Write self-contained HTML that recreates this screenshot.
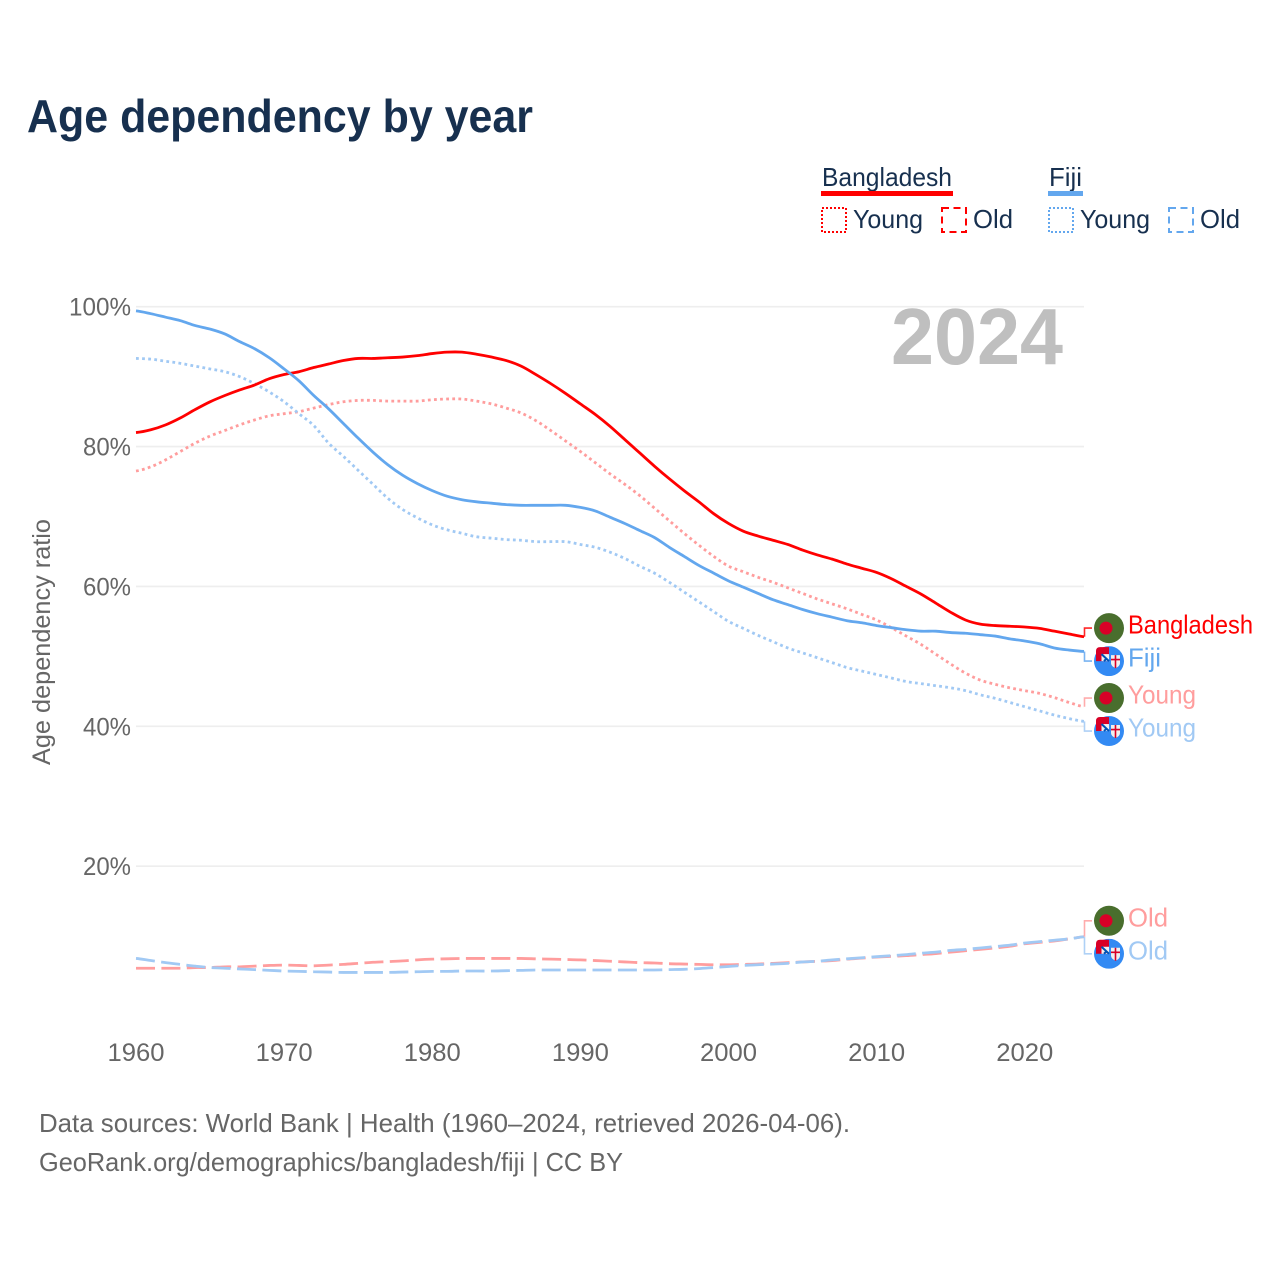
<!DOCTYPE html>
<html lang="en">
<head>
<meta charset="utf-8">
<title>Age dependency by year</title>
<style>
html,body{margin:0;padding:0;background:#fff;width:1280px;height:1280px;overflow:hidden}
svg{display:block;font-family:"Liberation Sans",sans-serif}
</style>
</head>
<body>
<svg id="chart" xmlns="http://www.w3.org/2000/svg" width="1280" height="1280" viewBox="0 0 1280 1280">
  <rect width="1280" height="1280" fill="#fff"/>
  <text x="27" y="132" font-size="46" font-weight="700" fill="#17304f" textLength="506" lengthAdjust="spacingAndGlyphs">Age dependency by year</text>

  <g font-size="26" fill="#17304f">
    <text x="822" y="186" textLength="130" lengthAdjust="spacingAndGlyphs">Bangladesh</text>
    <rect x="821" y="191" width="132" height="5" fill="#ff0000"/>
    <rect x="822" y="208" width="24" height="24" fill="none" stroke="#ff0000" stroke-width="2" stroke-dasharray="2 2"/>
    <text x="853" y="228" textLength="70" lengthAdjust="spacingAndGlyphs">Young</text>
    <rect x="942" y="208" width="24" height="24" fill="none" stroke="#ff0000" stroke-width="2" stroke-dasharray="7 4.5"/>
    <text x="973" y="228" textLength="40" lengthAdjust="spacingAndGlyphs">Old</text>

    <text x="1049" y="186" textLength="33" lengthAdjust="spacingAndGlyphs">Fiji</text>
    <rect x="1048" y="191" width="35" height="5" fill="#63a7ee"/>
    <rect x="1049" y="208" width="24" height="24" fill="none" stroke="#63a7ee" stroke-width="2" stroke-dasharray="2 2"/>
    <text x="1080" y="228" textLength="70" lengthAdjust="spacingAndGlyphs">Young</text>
    <rect x="1169" y="208" width="24" height="24" fill="none" stroke="#63a7ee" stroke-width="2" stroke-dasharray="7 4.5"/>
    <text x="1200" y="228" textLength="40" lengthAdjust="spacingAndGlyphs">Old</text>
  </g>

  <g id="grid"></g>
  <g id="yticks" font-size="25" fill="#666"></g>
  <g id="xticks" font-size="25" fill="#666"></g>

  <text transform="translate(50,642) rotate(-90)" text-anchor="middle" font-size="25" fill="#666" textLength="246" lengthAdjust="spacingAndGlyphs">Age dependency ratio</text>
  <text x="891" y="364" font-size="80" font-weight="700" fill="#bfbfbf" textLength="172" lengthAdjust="spacingAndGlyphs">2024</text>

  <g id="series"></g>
  <g id="endlabels"></g>

  <text x="39" y="1132" font-size="26" fill="#666" textLength="811" lengthAdjust="spacingAndGlyphs">Data sources: World Bank | Health (1960–2024, retrieved 2026-04-06).</text>
  <text x="39" y="1171" font-size="26" fill="#666" textLength="584" lengthAdjust="spacingAndGlyphs">GeoRank.org/demographics/bangladesh/fiji | CC BY</text>
</svg>

<script>
const firstYear = 1960;
const lastYear = 2024;
const yearTicks = [1960, 1970, 1980, 1990, 2000, 2010, 2020];
const percentTicks = [20, 40, 60, 80, 100];

const bangladeshTotal = [
  82.0,82.4,83.1,84.1,85.3,86.4,87.3,88.1,88.8,89.7,
  90.3,90.7,91.3,91.8,92.3,92.6,92.6,92.7,92.8,93.0,
  93.3,93.5,93.5,93.2,92.8,92.3,91.5,90.3,89.0,87.6,
  86.1,84.6,82.9,81.0,79.1,77.2,75.4,73.7,72.1,70.4,
  69.0,67.9,67.2,66.6,66.0,65.2,64.5,63.9,63.2,62.6,
  62.0,61.1,60.0,58.9,57.6,56.3,55.2,54.6,54.4,54.3,
  54.2,54.0,53.6,53.2,52.8
];
const bangladeshYoung = [
  76.5,77.1,78.1,79.3,80.5,81.5,82.3,83.1,83.8,84.4,
  84.7,85.0,85.5,86.0,86.4,86.6,86.6,86.5,86.5,86.5,
  86.7,86.8,86.8,86.5,86.1,85.5,84.8,83.7,82.3,80.8,
  79.3,77.7,76.1,74.6,73.0,71.2,69.4,67.6,65.9,64.3,
  62.9,62.1,61.3,60.6,59.8,59.0,58.2,57.5,56.8,56.0,
  55.2,54.1,52.9,51.7,50.3,48.9,47.6,46.6,46.0,45.5,
  45.1,44.7,44.1,43.4,42.8
];
const bangladeshOld = [
  5.4,5.4,5.4,5.4,5.5,5.5,5.6,5.6,5.7,5.8,
  5.85,5.8,5.75,5.85,5.95,6.1,6.25,6.35,6.45,6.6,
  6.7,6.75,6.8,6.8,6.8,6.8,6.8,6.75,6.7,6.65,
  6.6,6.5,6.4,6.3,6.2,6.15,6.05,6.0,5.95,5.9,
  5.9,5.95,6.0,6.1,6.2,6.3,6.4,6.5,6.7,6.85,
  7.0,7.1,7.2,7.35,7.5,7.7,7.9,8.1,8.3,8.55,
  8.9,9.1,9.3,9.6,9.9
];
const fijiTotal = [
  99.4,99.0,98.5,98.0,97.3,96.8,96.1,95.0,94.0,92.7,
  91.1,89.4,87.3,85.4,83.3,81.2,79.2,77.4,75.9,74.7,
  73.7,72.9,72.4,72.1,71.9,71.7,71.6,71.6,71.6,71.6,
  71.3,70.8,69.9,69.0,68.0,67.0,65.6,64.3,63.0,61.9,
  60.8,59.9,59.0,58.1,57.4,56.7,56.1,55.6,55.1,54.8,
  54.4,54.1,53.8,53.6,53.6,53.4,53.3,53.1,52.9,52.5,
  52.2,51.8,51.2,50.9,50.7
];
const fijiYoung = [
  92.6,92.5,92.2,91.9,91.5,91.1,90.7,90.0,89.0,87.8,
  86.4,84.7,83.0,80.5,78.6,76.6,74.6,72.6,71.0,69.8,
  68.8,68.1,67.6,67.1,66.9,66.7,66.6,66.4,66.4,66.4,
  66.0,65.6,64.9,64.0,62.9,61.9,60.6,59.2,57.8,56.4,
  55.0,54.0,53.0,52.1,51.2,50.5,49.8,49.1,48.4,47.9,
  47.4,46.9,46.4,46.1,45.8,45.5,45.1,44.5,44.0,43.4,
  42.8,42.2,41.6,41.1,40.7
];
const fijiOld = [
  6.8,6.5,6.2,5.95,5.7,5.5,5.4,5.3,5.2,5.1,
  5.0,4.95,4.9,4.85,4.8,4.8,4.8,4.8,4.85,4.9,
  4.95,4.95,5.0,5.0,5.0,5.05,5.1,5.15,5.15,5.15,
  5.15,5.15,5.15,5.15,5.15,5.15,5.2,5.25,5.35,5.5,
  5.65,5.8,5.9,6.0,6.1,6.3,6.4,6.6,6.75,6.9,
  7.05,7.2,7.35,7.55,7.7,7.95,8.1,8.3,8.5,8.7,
  9.0,9.2,9.4,9.6,9.9
];

const NS = 'http://www.w3.org/2000/svg';
const xScale = y => 136 + (y - firstYear) * (1084 - 136) / (lastYear - firstYear);
const yScale = v => 1006 - v * 6.993;

function make(tag, attrs, parent) {
  const n = document.createElementNS(NS, tag);
  Object.keys(attrs).forEach(k => n.setAttribute(k, attrs[k]));
  parent.appendChild(n);
  return n;
}

const gridG = document.getElementById('grid');
const yG = document.getElementById('yticks');
const xG = document.getElementById('xticks');
const seriesG = document.getElementById('series');
const labelsG = document.getElementById('endlabels');

percentTicks.forEach(v => {
  const line = make('line', {x1: 136, x2: 1084, y1: yScale(v), y2: yScale(v), stroke: '#eeeeee', 'stroke-width': 1.6}, gridG);
  
  
  const t = make('text', {x: 131, y: yScale(v) + 9, 'text-anchor': 'end', textLength: v === 100 ? 62 : 48, lengthAdjust: 'spacingAndGlyphs'}, yG);
  t.textContent = v + '%';
  
  
});

yearTicks.forEach(y => {
  const t = make('text', {x: xScale(y), y: 1061, 'text-anchor': 'middle', textLength: 57, lengthAdjust: 'spacingAndGlyphs'}, xG);
  t.textContent = y;
  
  
});

/* Smooth Catmull-Rom curve through the yearly values. */
function linePath(values) {
  const px = i => xScale(firstYear + i);
  const py = i => yScale(values[Math.max(0, Math.min(values.length - 1, i))]);
  let d = 'M' + px(0).toFixed(2) + ' ' + py(0).toFixed(2);
  for (let i = 0; i < values.length - 1; i++) {
    const step = px(1) - px(0);
    const c1x = px(i) + step / 3;
    const c2x = px(i + 1) - step / 3;
    const c1y = py(i) + (py(i + 1) - py(i - 1)) / 6;
    const c2y = py(i + 1) - (py(i + 2) - py(i)) / 6;
    d += ' C' + c1x.toFixed(2) + ' ' + c1y.toFixed(2) + ' ' + c2x.toFixed(2) + ' ' + c2y.toFixed(2) + ' ' + px(i + 1).toFixed(2) + ' ' + py(i + 1).toFixed(2);
  }
  return d;
}

const RED = '#ff0000', BLUE = '#63a7ee', PINK = '#ff9d9d', SKY = '#a1c9f4';
const DOTTED = '2.8 3.3', DASHED = '19 6.4';

function drawLine(values, color, dash) {
  const p = make('path', {d: linePath(values), fill: 'none', stroke: color, 'stroke-width': 2.8}, seriesG);
  if (dash) p.setAttribute('stroke-dasharray', dash);
  return p;
}

const l1 = drawLine(bangladeshYoung, PINK, DOTTED);


const l2 = drawLine(bangladeshOld, PINK, DASHED);


const l3 = drawLine(fijiYoung, SKY, DOTTED);


const l4 = drawLine(fijiOld, SKY, DASHED);


const l5 = drawLine(bangladeshTotal, RED, null);


const l6 = drawLine(fijiTotal, BLUE, null);



let clipCount = 0;
function bangladeshFlag(cy) {
  const g = make('g', {}, labelsG);
  
  
  make('circle', {cx: 1109, cy: cy, r: 15, fill: '#496e2d'}, g);
  make('circle', {cx: 1106, cy: cy, r: 6.5, fill: '#d80027'}, g);
}
function fijiFlag(cy) {
  const g = make('g', {}, labelsG);
  
  
  const id = 'fiji-clip-' + (++clipCount);
  const clip = make('clipPath', {id: id}, g);
  make('circle', {cx: 1109, cy: cy, r: 15}, clip);
  const inner = make('g', {'clip-path': 'url(#' + id + ')'}, g);
  make('rect', {x: 1094, y: cy - 15, width: 30, height: 30, fill: '#338af3'}, inner);
  make('path', {d: 'M1109 ' + (cy - 14) + ' H1100 q-4 0 -4 4 V' + cy + ' H1109 z', fill: '#d80027'}, g);
  make('rect', {x: 1101.5, y: cy - 7, width: 7.5, height: 7, fill: '#f0f0f0'}, g);
  make('path', {d: 'M1101.5 ' + (cy - 7) + ' L1109 ' + cy + ' M1104 ' + cy + ' L1107 ' + (cy - 3), stroke: '#0052b4', 'stroke-width': 2, fill: 'none'}, g);
  make('path', {d: 'M1111 ' + (cy - 6) + ' h9 v8 q0 3 -4.5 5 q-4.5 -2 -4.5 -5 z', fill: '#f0f0f0'}, inner);
  make('path', {d: 'M1115.5 ' + (cy - 6) + ' v13 M1111 ' + (cy - 1.5) + ' h9', stroke: '#d80027', 'stroke-width': 1.6, fill: 'none'}, inner);
}

function endLabel(endValue, labelY, text, color, flag, width) {
  const c = make('path', {d: 'M1084.5 ' + yScale(endValue).toFixed(2) + ' V' + labelY.toFixed(2) + ' H1092', fill: 'none', stroke: color, 'stroke-width': 1.6, 'stroke-opacity': 0.85}, labelsG);
  
  
  flag(labelY);
  const t = make('text', {x: 1128, y: labelY + 5.5, 'font-size': 26, fill: color, textLength: width, lengthAdjust: 'spacingAndGlyphs'}, labelsG);
  t.textContent = text;
  
  
}

/* Paired labels are pushed apart evenly around their midpoint. */
function labelPair(a, b, textA, textB, colorA, colorB, widthA, widthB) {
  const mid = (yScale(a) + yScale(b)) / 2 + 0.5;
  endLabel(a, mid - 16.5, textA, colorA, bangladeshFlag, widthA);
  endLabel(b, mid + 16.5, textB, colorB, fijiFlag, widthB);
}

const last = arr => arr[arr.length - 1];
labelPair(last(bangladeshTotal), last(fijiTotal), 'Bangladesh', 'Fiji', RED, BLUE, 125, 33);
labelPair(last(bangladeshYoung), last(fijiYoung), 'Young', 'Young', PINK, SKY, 68, 68);
labelPair(last(bangladeshOld), last(fijiOld), 'Old', 'Old', PINK, SKY, 40, 40);
</script>
</body>
</html>
